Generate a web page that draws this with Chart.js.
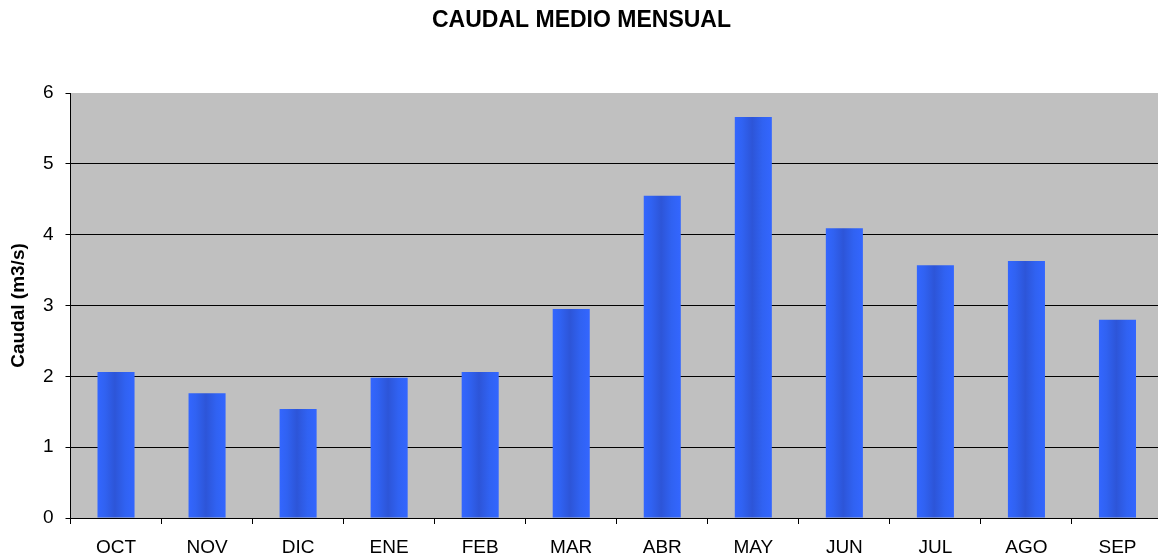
<!DOCTYPE html>
<html><head><meta charset="utf-8">
<script src="https://cdn.jsdelivr.net/npm/chart.js@4/dist/chart.umd.min.js"></script>
<style>html,body{margin:0;padding:0;overflow:hidden;background:#fff}#wrap{width:1164px;height:558px}</style>
</head><body><div id="wrap"><canvas id="c" width="1164" height="558" style="width:1164px;height:558px"></canvas></div>
<script>
const months = ['OCT','NOV','DIC','ENE','FEB','MAR','ABR','MAY','JUN','JUL','AGO','SEP'];
const caudal = [2.06, 1.76, 1.54, 1.98, 2.06, 2.95, 4.55, 5.66, 4.09, 3.57, 3.63, 2.80];
const yTicks = [0, 1, 2, 3, 4, 5, 6];
const FONT = "'Liberation Sans', Arial, sans-serif";

const bgPlugin = {
  id: 'bg',
  beforeDraw(chart) {
    const a = chart.chartArea, ctx = chart.ctx;
    ctx.save(); ctx.fillStyle = '#c0c0c0';
    ctx.fillRect(a.left, a.top, a.right - a.left, a.bottom - a.top);
    ctx.restore();
  },
  beforeDatasetsDraw(chart) {
    const ctx = chart.ctx;
    chart.getDatasetMeta(0).data.forEach(el => {
      const l = el.x - el.width / 2, r = el.x + el.width / 2;
      const g = ctx.createLinearGradient(l, 0, r, 0);
      g.addColorStop(0, '#3366ff');
      g.addColorStop(0.2, '#3062f2');
      g.addColorStop(0.47, '#2d55d8');
      g.addColorStop(0.75, '#3062f2');
      g.addColorStop(1, '#3366ff');
      el.options = Object.assign({}, el.options, { backgroundColor: g });
    });
  }
};

new Chart(document.getElementById('c'), {
  type: 'bar',
  data: { labels: months, datasets: [{ data: caudal, backgroundColor: '#3366ff', borderWidth: 0, barPercentage: 0.407, categoryPercentage: 1.0 }] },
  plugins: [bgPlugin],
  options: {
    responsive: false, animation: false,
    layout: { padding: { left: 0, right: 1, top: 0, bottom: 0 } },
    plugins: {
      legend: { display: false }, tooltip: { enabled: false },
      title: { display: true, text: 'CAUDAL MEDIO MENSUAL', color: '#000', font: { family: FONT, size: 23, weight: 'bold' }, padding: { top: 7, bottom: 58.4 } }
    },
    scales: {
      x: {
        offset: true,
        border: { color: '#000', width: 1 },
        grid: { offset: true, drawOnChartArea: false, color: '#000', tickLength: 6 },
        ticks: { color: '#000', font: { family: FONT, size: 19 }, padding: 12, maxRotation: 0 },
        afterFit(s) { s.height = 40; }
      },
      y: {
        min: 0, max: 6,
        afterBuildTicks(s) { s.ticks = yTicks.map(v => ({ value: v })); },
        border: { color: '#000', width: 1 },
        grid: { color: c => (c.tick && c.tick.value === 6) ? 'rgba(0,0,0,0)' : '#000', tickColor: '#000', tickLength: 5 },
        ticks: { color: '#000', font: { family: FONT, size: 19 }, padding: 12 },
        title: { display: true, text: 'Caudal (m3/s)', color: '#000', font: { family: FONT, size: 19, weight: 'bold' }, padding: { top: 7, bottom: 4 } },
        afterFit(s) { s.width = 70.5; }
      }
    }
  }
});
</script></body></html>
